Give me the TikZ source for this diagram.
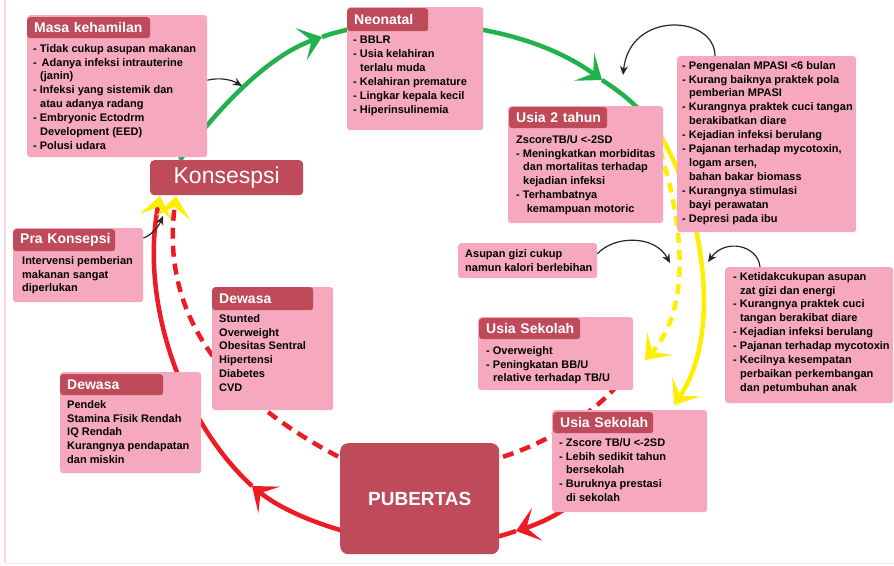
\documentclass[tikz,border=0pt]{standalone}
\usepackage{fontspec}
\setmainfont{Liberation Sans}
\usetikzlibrary{arrows.meta,backgrounds}
\definecolor{boxpink}{RGB}{246,168,190}
\definecolor{headred}{RGB}{190,74,90}
\definecolor{cyclegreen}{RGB}{34,177,76}
\definecolor{cycleyellow}{RGB}{255,238,0}
\definecolor{cyclered}{RGB}{237,28,36}
\definecolor{framepink}{RGB}{250,212,224}
\tikzset{
 pinkbox/.style={fill=boxpink, rounded corners=3pt, anchor=north west, inner sep=0},
 headbox/.style={fill=headred, text=white, rounded corners=3pt, anchor=north west,
   inner xsep=7pt, inner ysep=0, align=left, font=\fontsize{14}{16}\selectfont\bfseries},
 bodytext/.style={anchor=north west, inner sep=0, align=left,
   font=\fontsize{11}{13.9}\selectfont\bfseries},
 bigbox/.style={fill=headred, text=white, anchor=north west, inner sep=0},
 loopline/.style={line width=4.5pt},
 bigtip/.style={-{Stealth[length=22pt,width=34pt,inset=11pt]}},
 yellowtip/.style={-{Stealth[length=22pt,width=34pt,inset=11pt,color=cycleyellow]}},
 hintarrow/.style={draw=black!85, line width=1.2pt, -{Stealth[length=9pt,width=8pt]}},
}
\newcommand{\ind}{\hspace*{7pt}}

\begin{document}
\begin{tikzpicture}[x=1pt,y=-1pt]
    \useasboundingbox (0,0) rectangle (894,565);
    \draw[framepink, line width=1.5pt] (5,0) -- (5,563);
    \draw[framepink!50, line width=0.8pt] (5,563) -- (894,563);

    % big boxes
    \node[bigbox, rounded corners=4pt, minimum width=153pt, minimum height=35pt,
        font=\fontsize{23}{25}\selectfont] (kons) at (150,160) {Konsespsi};
    \node[bigbox, rounded corners=8pt, minimum width=159pt, minimum height=111pt,
        font=\fontsize{19}{21}\selectfont\bfseries] (pub) at (340,443) {PUBERTAS};

    % Masa kehamilan
    \node[pinkbox, minimum width=180pt, minimum height=142pt] (mk) at (27,15) {};
    \node[headbox, text width=109pt, minimum height=21pt] (mk-head) at (27,17) {\mbox{Masa kehamilan}};
    \node[bodytext] (mk-text) at (33,44) {- Tidak cukup asupan makanan\\
        - \,Adanya infeksi intrauterine\\ \ind(janin)\\
        - Infeksi yang sistemik dan\\ \ind atau adanya radang\\
        - Embryonic Ectodrm\\ \ind Development (EED)\\ - Polusi udara};

    % Neonatal
    \node[pinkbox, minimum width=136pt, minimum height=123pt] (neo) at (347,7) {};
    \node[headbox, text width=67pt, minimum height=23pt] (neo-head) at (347,8) {\mbox{Neonatal}};
    \node[bodytext] (neo-text) at (353,36) {- BBLR\\ - Usia kelahiran\\ \ind terlalu muda\\
        - Kelahiran premature\\ - Lingkar kepala kecil\\ - Hiperinsulinemia};

    % MPASI
    \node[pinkbox, minimum width=179pt, minimum height=176pt] (mpasi) at (677,56) {};
    \node[bodytext] (mpasi-text) at (682,61) {- Pengenalan MPASI <6 bulan\\
        - Kurang baiknya praktek pola\\ \ind pemberian MPASI\\
        - Kurangnya praktek cuci tangan\\ \ind berakibatkan diare\\
        - Kejadian infeksi berulang\\ - Pajanan terhadap mycotoxin,\\
        \ind logam arsen,\\ \ind bahan bakar biomass\\
        - Kurangnya stimulasi\\ \ind bayi perawatan\\ - Depresi pada ibu};

    % Usia 2 tahun
    \node[pinkbox, minimum width=155pt, minimum height=117pt] (u2) at (508,106) {};
    \node[headbox, text width=84pt, minimum height=21pt] (u2-head) at (509,107) {\mbox{Usia 2 tahun}};
    \node[bodytext] (u2-text) at (516,135) {ZscoreTB/U <-2SD\\
        - Meningkatkan morbiditas\\ \ind dan mortalitas terhadap\\ \ind kejadian infeksi\\
        - Terhambatnya\\ \ind\,\,kemampuan motoric};

    % Asupan
    \node[pinkbox, minimum width=139pt, minimum height=35pt] (asp) at (458,243) {};
    \node[bodytext] (asp-text) at (465,249) {Asupan gizi cukup\\ namun kalori berlebihan};

    % Ketidakcukupan
    \node[pinkbox, minimum width=168pt, minimum height=136pt] (ktd) at (725,267) {};
    \node[bodytext] (ktd-text) at (733,272) {- Ketidakcukupan asupan\\ \ind zat gizi dan energi\\
        - Kurangnya praktek cuci\\ \ind tangan berakibat diare\\
        - Kejadian infeksi berulang\\ - Pajanan terhadap mycotoxin\\
        - Kecilnya kesempatan\\ \ind perbaikan perkembangan\\ \ind dan petumbuhan anak};

    % Pra Konsepsi
    \node[pinkbox, minimum width=130pt, minimum height=74pt] (pk) at (13,228) {};
    \node[headbox, text width=88pt, minimum height=22pt] (pk-head) at (13,229) {\mbox{Pra Konsepsi}};
    \node[bodytext] (pk-text) at (22,256) {Intervensi pemberian\\ makanan sangat\\ diperlukan};

    % Dewasa (tengah)
    \node[pinkbox, minimum width=121pt, minimum height=123pt] (dwm) at (212,287) {};
    \node[headbox, text width=87pt, minimum height=23pt] (dwm-head) at (212,287) {\mbox{Dewasa}};
    \node[bodytext] (dwm-text) at (219,314) {Stunted\\ Overweight\\ Obesitas Sentral\\
        Hipertensi\\ Diabetes\\ CVD};

    % Dewasa (kiri)
    \node[pinkbox, minimum width=141pt, minimum height=101pt] (dwl) at (60,372) {};
    \node[headbox, text width=89pt, minimum height=21pt] (dwl-head) at (60,374) {\mbox{Dewasa}};
    \node[bodytext] (dwl-text) at (67,400) {Pendek\\ Stamina Fisik Rendah\\ IQ Rendah\\
        Kurangnya pendapatan\\ dan miskin};

    % Usia Sekolah
    \node[pinkbox, minimum width=155pt, minimum height=73pt] (us1) at (478,317) {};
    \node[headbox, text width=87pt, minimum height=21pt] (us1-head) at (479,318) {\mbox{Usia Sekolah}};
    \node[bodytext] (us1-text) at (486,346) {- Overweight\\ - Peningkatan BB/U\\
        \ind relative terhadap TB/U};

    \node[pinkbox, minimum width=155pt, minimum height=102pt] (us2) at (552,410) {};
    \node[headbox, text width=86pt, minimum height=21pt] (us2-head) at (553,412) {\mbox{Usia Sekolah}};
    \node[bodytext] (us2-text) at (559,438) {- Zscore TB/U <-2SD\\ - Lebih sedikit tahun\\
        \ind bersekolah\\ - Buruknya prestasi\\ \ind di sekolah};

    % siklus
    \coordinate (g-start) at ([xshift=30pt]kons.north west);
    \coordinate (g-tip1) at (322,37);
    \coordinate (g-tip2) at (602,80);
    \coordinate (g-end) at (660,135);
    \coordinate (y-start) at (660,150);
    \coordinate (y-tip1) at (645,360);
    \coordinate (y-tip2) at (674,405);
    \coordinate (r-start) at (570,505);
    \coordinate (r-tip1) at (516,531);
    \coordinate (r-tip2) at (252,486);
    \coordinate (r-tip3) at (160,196);
    \coordinate (d-start) at (618,385);
    \coordinate (d-mid) at (339,457);
    \coordinate (d-tip) at (176,196);

    \begin{scope}[on background layer]
        \draw[loopline, cyclegreen, bigtip] (g-start) .. controls (220,105) and (270,55) .. (g-tip1);
        \draw[loopline, cyclegreen, bigtip] (g-tip1) .. controls (390,12) and (520,20) .. (g-tip2);
        \draw[loopline, cyclegreen] (g-tip2) .. controls (625,95) and (643,110) .. (g-end);
        \draw[loopline, cycleyellow, bigtip] (g-end) .. controls (700,200) and (725,330) .. (y-tip2);
        \draw[loopline, cycleyellow, dash pattern=on 10pt off 7pt, bigtip]
            (y-start) .. controls (685,230) and (690,310) .. (y-tip1);
        \draw[loopline, cyclered, bigtip] (r-start) .. controls (555,517) and (535,525) .. (r-tip1);
        \draw[loopline, cyclered, bigtip] (r-tip1) .. controls (420,565) and (300,525) .. (r-tip2);
        \draw[loopline, cyclered, yellowtip] (r-tip2) .. controls (180,420) and (140,300) .. (r-tip3);
        \draw[loopline, cyclered, dash pattern=on 11pt off 7pt, yellowtip]
            (d-start) .. controls (540,470) and (400,490) .. (d-mid)
            .. controls (230,400) and (160,320) .. (d-tip);
    \end{scope}

    % panah keterangan
    \coordinate (mk-hint) at (242,86);
    \coordinate (mpasi-hint) at (623,75);
    \coordinate (asp-hint) at (670,263);
    \coordinate (ktd-hint) at (708,262);
    \coordinate (pk-hint) at (163,216);
    \draw[hintarrow] ([yshift=6pt]mk.east) .. controls (220,77) and (232,80) .. (mk-hint);
    \draw[hintarrow] ([xshift=38pt]mpasi.north west) .. controls (715,15) and (630,10) .. (mpasi-hint);
    \draw[hintarrow] ([yshift=7pt]asp.east) .. controls (615,235) and (655,235) .. (asp-hint);
    \draw[hintarrow] ([xshift=35pt]ktd.north west) .. controls (758,245) and (725,238) .. (ktd-hint);
    \draw[hintarrow] ([yshift=-10pt]pk.north east) .. controls (150,236) and (158,228) .. (pk-hint);
\end{tikzpicture}
\end{document}
